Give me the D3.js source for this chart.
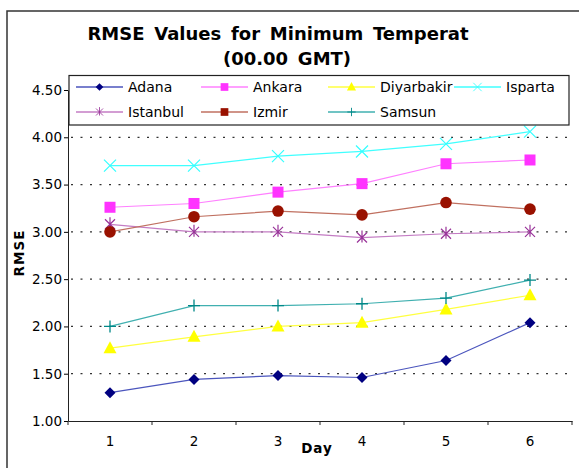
<!DOCTYPE html>
<html>
<head>
<meta charset="utf-8">
<script src="https://cdn.jsdelivr.net/npm/d3@7"></script>
<style>
  body { margin: 0; background: #fff; }
  text { font-family: "DejaVu Sans", sans-serif; fill: #000; }
</style>
</head>
<body>
<div id="chart"></div>
<script>
// data
const days = [1, 2, 3, 4, 5, 6];
const yTicks = [1.0, 1.5, 2.0, 2.5, 3.0, 3.5, 4.0, 4.5];

const adana      = [1.30, 1.44, 1.48, 1.46, 1.64, 2.04];
const ankara     = [3.26, 3.30, 3.42, 3.51, 3.72, 3.76];
const diyarbakir = [1.77, 1.89, 2.00, 2.04, 2.18, 2.33];
const isparta    = [3.70, 3.70, 3.80, 3.85, 3.93, 4.06];
const istanbul   = [3.08, 3.00, 3.00, 2.94, 2.98, 3.00];
const izmir      = [3.00, 3.16, 3.22, 3.18, 3.31, 3.24];
const samsun     = [2.00, 2.22, 2.22, 2.24, 2.30, 2.49];

const series = [
  {name: "Adana", values: adana, color: "#000080", line: "#4b55bd", marker: "diamond"},
  {name: "Ankara", values: ankara, color: "#ff33ff", line: "#ff80ff", marker: "square"},
  {name: "Diyarbakir", values: diyarbakir, color: "#ffff00", line: "#ffff40", marker: "triangle"},
  {name: "Isparta", values: isparta, color: "#33ffff", line: "#40ffff", marker: "x"},
  {name: "Istanbul", values: istanbul, color: "#993399", line: "#c47cc4", marker: "star"},
  {name: "Izmir", values: izmir, color: "#991100", line: "#c07060", marker: "circle"},
  {name: "Samsun", values: samsun, color: "#008888", line: "#40b0b0", marker: "plus"}
];

const W = 579, H = 468;
const plotL = 68, plotR = 572, plotT = 90, plotB = 421;

const svg = d3.select("#chart").append("svg")
    .attr("width", W).attr("height", H);

// outer chart frame (runs past right and bottom edge)
svg.append("rect")
    .attr("x", 7).attr("y", 11)
    .attr("width", 600).attr("height", 500)
    .attr("fill", "none").attr("stroke", "#333").attr("stroke-width", 1.5);

// title
const title = svg.append("text")
    .attr("font-weight", "bold").attr("font-size", 18)
    .attr("text-anchor", "middle").attr("word-spacing", 3.5);
title.append("tspan").attr("x", 278).attr("y", 40).text("RMSE Values for Minimum Temperat");
title.append("tspan").attr("x", 287).attr("y", 65).text("(00.00 GMT)");

const x = d3.scaleBand().domain(days).range([plotL, plotR]);
const y = d3.scaleLinear().domain([1, 4.5]).range([plotB, plotT]);

// dotted grid lines
svg.append("g")
  .selectAll("line")
  .data(yTicks.filter(d => d > 1))
  .join("line")
    .attr("x1", plotL + 3).attr("x2", plotR)
    .attr("y1", d => y(d)).attr("y2", d => y(d))
    .attr("stroke", "#333").attr("stroke-width", 1.2)
    .attr("stroke-dasharray", "2,7.5");

// y axis
const yAxis = svg.append("g")
    .attr("transform", `translate(${plotL},0)`)
    .call(d3.axisLeft(y).tickValues(yTicks).tickFormat(d3.format(".2f")).tickSize(4).tickSizeOuter(0));
yAxis.select(".domain").attr("stroke", "#222");
yAxis.selectAll("text").attr("font-size", 13.5).attr("font-family", "DejaVu Sans").attr("dx", 1);

// x axis
const xAxis = svg.append("g")
    .attr("transform", `translate(0,${plotB})`)
    .call(d3.axisBottom(x).tickSize(0).tickPadding(15));
xAxis.select(".domain").attr("stroke", "#222");
xAxis.selectAll("text").attr("font-size", 13.5).attr("font-family", "DejaVu Sans");
// ticks on the band edges
svg.append("g")
  .selectAll("line")
  .data(days.map(d => x(d)).concat([plotR]))
  .join("line")
    .attr("x1", d => d).attr("x2", d => d)
    .attr("y1", plotB).attr("y2", plotB + 4)
    .attr("stroke", "#222");

// axis titles
svg.append("text")
    .attr("x", 317).attr("y", 453)
    .attr("text-anchor", "middle")
    .attr("font-weight", "bold").attr("font-size", 13.5)
    .attr("letter-spacing", 1)
    .text("Day");

svg.append("text")
    .attr("transform", "translate(24,253) rotate(-90)")
    .attr("text-anchor", "middle")
    .attr("font-weight", "bold").attr("font-size", 13.5)
    .attr("letter-spacing", 1)
    .text("RMSE");

function drawMarker(g, kind, color) {
  if (kind === "diamond") {
    g.append("path").attr("d", "M0,-5.5L5.5,0L0,5.5L-5.5,0Z").attr("fill", color);
  } else if (kind === "square") {
    g.append("rect").attr("x", -5.5).attr("y", -5.5).attr("width", 11).attr("height", 11).attr("fill", color);
  } else if (kind === "triangle") {
    g.append("path").attr("d", "M0,-7L6.5,5L-6.5,5Z").attr("fill", color);
  } else if (kind === "x") {
    g.append("path").attr("d", "M-6,-6L6,6M-6,6L6,-6").attr("stroke", color).attr("stroke-width", 1.2);
  } else if (kind === "star") {
    g.append("path").attr("d", "M-5,-5L5,5M-5,5L5,-5M0,-7L0,5").attr("stroke", color).attr("stroke-width", 1.2);
  } else if (kind === "circle") {
    g.append("circle").attr("r", 5.8).attr("fill", color);
  } else if (kind === "plus") {
    g.append("path").attr("d", "M-6,0L6,0M0,-6L0,6").attr("stroke", color).attr("stroke-width", 1.3);
  }
}

const line = d3.line()
    .x((d, i) => x(days[i]) + x.bandwidth() / 2)
    .y(d => y(d));

const plot = svg.append("g");
series.forEach(s => {
  plot.append("path")
      .attr("d", line(s.values))
      .attr("fill", "none")
      .attr("stroke", s.line)
      .attr("stroke-width", 1.2);
  s.values.forEach((v, i) => {
    const g = plot.append("g")
        .attr("transform", `translate(${x(days[i]) + x.bandwidth() / 2},${y(v)})`);
    drawMarker(g, s.marker, s.color);
  });
});

// legend (sits over the top of the plot)
const legend = svg.append("g");
legend.append("rect")
    .attr("x", 69).attr("y", 75.5)
    .attr("width", 500).attr("height", 49.5)
    .attr("fill", "#fff").attr("stroke", "#222").attr("stroke-width", 1.2);

const colX = [76, 201, 328, 454];
series.forEach((s, i) => {
  const cx = colX[i % 4], cy = i < 4 ? 87 : 112;
  const item = legend.append("g").attr("transform", `translate(${cx},${cy})`);
  item.append("line")
      .attr("x1", 0).attr("x2", 47)
      .attr("stroke", s.line).attr("stroke-width", 1.5);
  const m = item.append("g");
  drawMarker(m, s.marker === "circle" ? "square" : s.marker, s.color);
  m.attr("transform", "translate(23.5,0) scale(0.7)");
  item.append("text")
      .attr("x", 52).attr("y", 5)
      .attr("font-size", 14)
      .text(s.name);
});
</script>
</body>
</html>
